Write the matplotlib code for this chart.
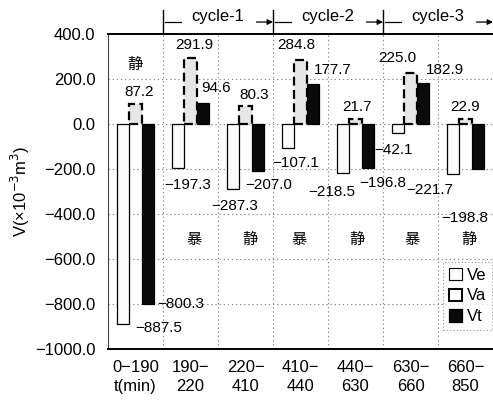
import matplotlib
matplotlib.use("Agg")
import matplotlib.pyplot as plt
import numpy as np

plt.rcParams['font.family'] = ['Liberation Sans', 'Noto Sans CJK JP', 'DejaVu Sans']
plt.rcParams['axes.unicode_minus'] = True

periods = ["0\u2212190\nt(min)", "190\u2212\n220", "220\u2212\n410", "410\u2212\n440",
           "440\u2212\n630", "630\u2212\n660", "660\u2212\n850"]
states = ["静", "暴", "静", "暴", "静", "暴", "静"]
Ve = [-887.5, -197.3, -287.3, -107.1, -218.5, -42.1, -221.7]
Va = [87.2, 291.9, 80.3, 284.8, 21.7, 225.0, 22.9]
Vt = [-800.3, 94.6, -207.0, 177.7, -196.8, 182.9, -198.8]
cycles = ["cycle-1", "cycle-2", "cycle-3"]
yticks = [400, 200, 0, -200, -400, -600, -800, -1000]

# label placement (offsets in data units relative to group centre / value)
ve_off = [(0.0, -18, 'left'), (-0.05, -74, 'center'), (-0.2, -77, 'center'), (-0.09, -66, 'center'),
          (-0.44, -84, 'center'), (-0.31, -73, 'center'), (-0.65, -71, 'center')]
va_off = [(0.07, 55), (0.07, 59), (0.15, 49), (-0.07, 66), (0.02, 53), (-0.24, 68), (0.0, 52)]
vt_off = [(0.4, 0, 'left'), (0.47, 65, 'center'), (0.42, -64, 'center'), (0.58, 62, 'center'),
          (0.49, -65, 'center'), (0.62, 57, 'center'), (-0.02, -218, 'center')]
state_y = [262, -515, -515, -515, -515, -515, -515]
state_dx = [0.0, 0.07, 0.09, -0.02, 0.02, 0.02, 0.07]

fig = plt.figure(figsize=(4.93, 4.05), dpi=100)
ax = fig.add_axes([108/493, 56/405, 385/493, 315/405])

x = np.arange(len(periods))
w = 0.22
ax.bar(x - w, Ve, w, facecolor='#fbfbfb', edgecolor='black', linewidth=0.9, label='Ve', zorder=3)
ax.bar(x, Va, w, facecolor='#e6e6e6', edgecolor='black', linewidth=1.6, linestyle=(0, (4, 2)),
       label='Va', zorder=3)
ax.bar(x + w, Vt, w, facecolor='#0a0a0a', edgecolor='black', linewidth=0.9, label='Vt', zorder=3)

fs = 11
for i in range(len(periods)):
    dx, dy, ha = ve_off[i]
    ax.text(i + dx, Ve[i] + dy, f"{Ve[i]:.1f}".replace('-', '\u2212'), ha=ha, va='center', fontsize=fs)
    dx, dy = va_off[i]
    ax.text(i + dx, Va[i] + dy, f"{Va[i]:.1f}", ha='center', va='center', fontsize=fs)
    dx, dy, ha = vt_off[i]
    ax.text(i + dx, Vt[i] + dy, f"{Vt[i]:.1f}".replace('-', '\u2212'), ha=ha, va='center', fontsize=fs)
    ax.text(i + state_dx[i], state_y[i], states[i], ha='center', va='center', fontsize=11)

ax.set_xlim(-0.5, 6.5)
ax.set_ylim(-1000, 400)
ax.set_yticks(yticks)
ax.set_yticklabels([f"{v:.1f}".replace('-', '\u2212') for v in yticks], fontsize=12)
ax.set_xticks(x)
ax.set_xticklabels(periods, fontsize=12, linespacing=1.35)
ax.tick_params(axis='both', length=0)
ax.tick_params(axis='y', pad=9)
ax.tick_params(axis='x', pad=8)

for yv in yticks[1:-1]:
    ax.axhline(yv, color='#888888', linestyle=(0, (1.2, 2.5)), linewidth=0.8, zorder=1)
for xv in np.arange(0.5, 6.5, 1.0):
    ax.axvline(xv, color='#888888', linestyle=(0, (1.2, 2.5)), linewidth=0.8, zorder=1)

ax.spines['right'].set_visible(False)
ax.spines['top'].set_linewidth(1.4)
ax.spines['bottom'].set_linewidth(1.4)
ax.spines['left'].set_linewidth(0.8)
ax.spines['left'].set_color('#444444')

ax.set_ylabel('V(×10$^{-3}$m$^{3}$)', fontsize=12, labelpad=2)

# cycle annotations above the plot
trans = ax.get_xaxis_transform()
for k, name in enumerate(cycles):
    x0 = 0.5 + 2 * k
    ax.plot([x0, x0], [1.0, 1.075], transform=trans, color='black', linewidth=1.0, clip_on=False)
    ax.plot([x0 + 0.03, x0 + 0.32], [1.038, 1.038], transform=trans, color='black', linewidth=0.9,
            clip_on=False)
    ax.text(x0 + 1.0, 1.055, name, transform=trans, ha='center', va='center', fontsize=12)
    ax.annotate('', xy=(x0 + 2.0, 1.038), xytext=(x0 + 1.7, 1.038), xycoords=trans,
                textcoords=trans, arrowprops=dict(arrowstyle='-|>', color='black', lw=0.9,
                                                  mutation_scale=8, shrinkA=0, shrinkB=0),
                annotation_clip=False)

leg = ax.legend(loc='lower right', bbox_to_anchor=(0.997, 0.06), fontsize=12, frameon=True,
                fancybox=False, handlelength=0.75, handleheight=0.75, handletextpad=0.3,
                borderpad=0.35, labelspacing=0.35, borderaxespad=0.0)
leg.get_frame().set_linestyle((0, (1, 2)))
leg.get_frame().set_edgecolor('#777777')
leg.get_frame().set_linewidth(0.8)
hs = leg.legend_handles
hs[0].set_linewidth(0.8)
hs[1].set_linestyle('solid'); hs[1].set_linewidth(1.4); hs[1].set_facecolor('white')

fig.savefig('out.png', dpi=100)
